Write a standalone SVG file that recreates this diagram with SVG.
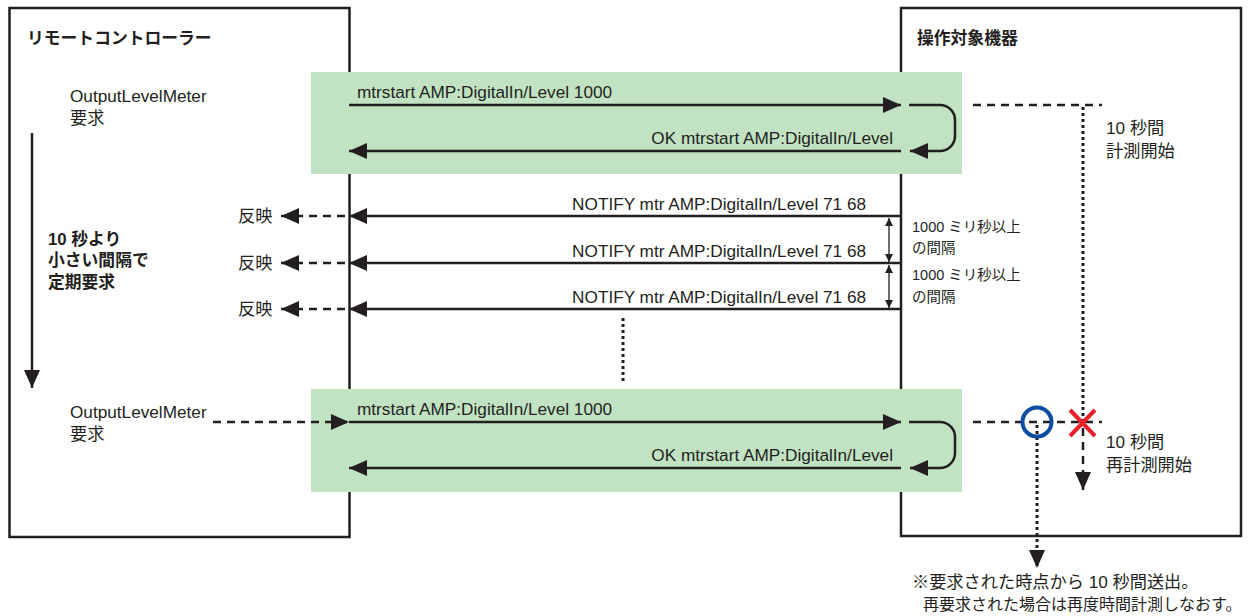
<svg xmlns="http://www.w3.org/2000/svg" width="1251" height="616" viewBox="0 0 1251 616">
<style>
text{font-family:"Liberation Sans","Noto Sans CJK JP",sans-serif;font-size:17.2px;fill:#231f20}
.b{font-weight:bold;font-size:16.8px}
.r{text-anchor:end}
.s{font-size:14.5px}
.f{font-size:16px}
.box{fill:#fff;stroke:#231f20;stroke-width:2.5}
.g{fill:#c2e2c4}
.ln{stroke:#231f20;stroke-width:2.5;fill:none}
.dash{stroke:#231f20;stroke-width:2.5;fill:none;stroke-dasharray:8 6}
.dot{stroke:#231f20;stroke-width:3;fill:none;stroke-dasharray:3 3}
.thin{stroke:#231f20;stroke-width:1.3;fill:none}
</style>
<defs>
<marker id="ar" viewBox="0 0 18 16" refX="18" refY="8" markerWidth="18" markerHeight="16" markerUnits="userSpaceOnUse" orient="auto"><path d="M0,0 L18,8 L0,16 Z" fill="#231f20"/></marker>
<marker id="sm" viewBox="0 0 8 8" refX="8" refY="4" markerWidth="8" markerHeight="8" markerUnits="userSpaceOnUse" orient="auto"><path d="M0,0 L8,4 L0,8 Z" fill="#231f20"/></marker>
</defs>
<g id="remote">
<rect class="box" x="9.5" y="8" width="340" height="529"/>
<text class="b" x="27" y="44">リモートコントローラー</text>
</g>
<g id="device">
<rect class="box" x="901" y="8" width="340" height="528"/>
<text class="b" x="917" y="44">操作対象機器</text>
</g>
<g id="green1"><rect class="g" x="311" y="72" width="651" height="102"/></g>
<g id="green2"><rect class="g" x="311" y="389" width="651" height="103"/></g>
<g id="labels-left">
<text x="70" y="102">OutputLevelMeter</text>
<text x="70" y="124">要求</text>
<text class="b" x="48" y="245">10 秒より</text>
<text class="b" x="48" y="266">小さい間隔で</text>
<text class="b" x="48" y="288">定期要求</text>
<text x="70" y="418">OutputLevelMeter</text>
<text x="70" y="440">要求</text>
<text x="238" y="222">反映</text>
<text x="238" y="269">反映</text>
<text x="238" y="315">反映</text>
</g>
<g id="labels-msg">
<text x="357" y="98">mtrstart AMP:DigitalIn/Level 1000</text>
<text class="r" x="893" y="144">OK mtrstart AMP:DigitalIn/Level</text>
<text class="r" x="866" y="210">NOTIFY mtr AMP:DigitalIn/Level 71 68</text>
<text class="r" x="866" y="257">NOTIFY mtr AMP:DigitalIn/Level 71 68</text>
<text class="r" x="866" y="303">NOTIFY mtr AMP:DigitalIn/Level 71 68</text>
<text x="357" y="415">mtrstart AMP:DigitalIn/Level 1000</text>
<text class="r" x="893" y="461">OK mtrstart AMP:DigitalIn/Level</text>
</g>
<g id="labels-right">
<text x="1106" y="134">10 秒間</text>
<text x="1106" y="157">計測開始</text>
<text class="s" x="912" y="232">1000 ミリ秒以上</text>
<text class="s" x="912" y="253">の間隔</text>
<text class="s" x="912" y="280">1000 ミリ秒以上</text>
<text class="s" x="912" y="302">の間隔</text>
<text x="1106" y="448">10 秒間</text>
<text x="1106" y="471">再計測開始</text>
<text x="912" y="588">※要求された時点から 10 秒間送出。</text>
<text class="f" x="923" y="610">再要求された場合は再度時間計測しなおす。</text>
</g>
<g id="connectors">
<line class="ln" x1="32" y1="133" x2="32" y2="388" marker-end="url(#ar)"/>
<line class="ln" x1="349" y1="105" x2="901" y2="105" marker-end="url(#ar)"/>
<line class="ln" x1="901" y1="151" x2="349" y2="151" marker-end="url(#ar)"/>
<path class="ln" d="M909,105 H940 A15,15 0 0 1 955,120 V136 A15,15 0 0 1 940,151 H910" marker-end="url(#ar)"/>
<line class="ln" x1="901" y1="216" x2="349" y2="216" marker-end="url(#ar)"/>
<line class="ln" x1="901" y1="263" x2="349" y2="263" marker-end="url(#ar)"/>
<line class="ln" x1="901" y1="309" x2="349" y2="309" marker-end="url(#ar)"/>
<line class="dash" x1="345" y1="216" x2="281" y2="216" marker-end="url(#ar)"/>
<line class="dash" x1="345" y1="263" x2="281" y2="263" marker-end="url(#ar)"/>
<line class="dash" x1="345" y1="309" x2="281" y2="309" marker-end="url(#ar)"/>
<line class="thin" x1="889" y1="225" x2="889" y2="218" marker-end="url(#sm)"/>
<line class="thin" x1="889" y1="225" x2="889" y2="262" marker-end="url(#sm)"/>
<line class="thin" x1="889" y1="272" x2="889" y2="265" marker-end="url(#sm)"/>
<line class="thin" x1="889" y1="272" x2="889" y2="308" marker-end="url(#sm)"/>
<line class="dot" x1="623" y1="318" x2="623" y2="384"/>
<line class="dash" x1="213" y1="422" x2="349" y2="422" marker-end="url(#ar)"/>
<line class="ln" x1="349" y1="422" x2="901" y2="422" marker-end="url(#ar)"/>
<line class="ln" x1="901" y1="468" x2="349" y2="468" marker-end="url(#ar)"/>
<path class="ln" d="M909,422 H940 A15,15 0 0 1 955,437 V453 A15,15 0 0 1 940,468 H910" marker-end="url(#ar)"/>
<line class="dash" x1="973" y1="105" x2="1102" y2="105"/>
<line class="dot" x1="1083" y1="107" x2="1083" y2="420"/>
<line class="dash" x1="1083" y1="428" x2="1083" y2="490" marker-end="url(#ar)"/>
<line class="dash" x1="973" y1="422" x2="1102" y2="422"/>
<line class="dot" x1="1037" y1="425" x2="1037" y2="568" marker-end="url(#ar)"/>
</g>
<g id="marks">
<circle cx="1037" cy="422" r="14.5" fill="none" stroke="#0b4ea2" stroke-width="4"/>
<path d="M1070,410 L1095,436 M1095,410 L1070,436" stroke="#e8202a" stroke-width="4" fill="none"/>
</g>
</svg>
